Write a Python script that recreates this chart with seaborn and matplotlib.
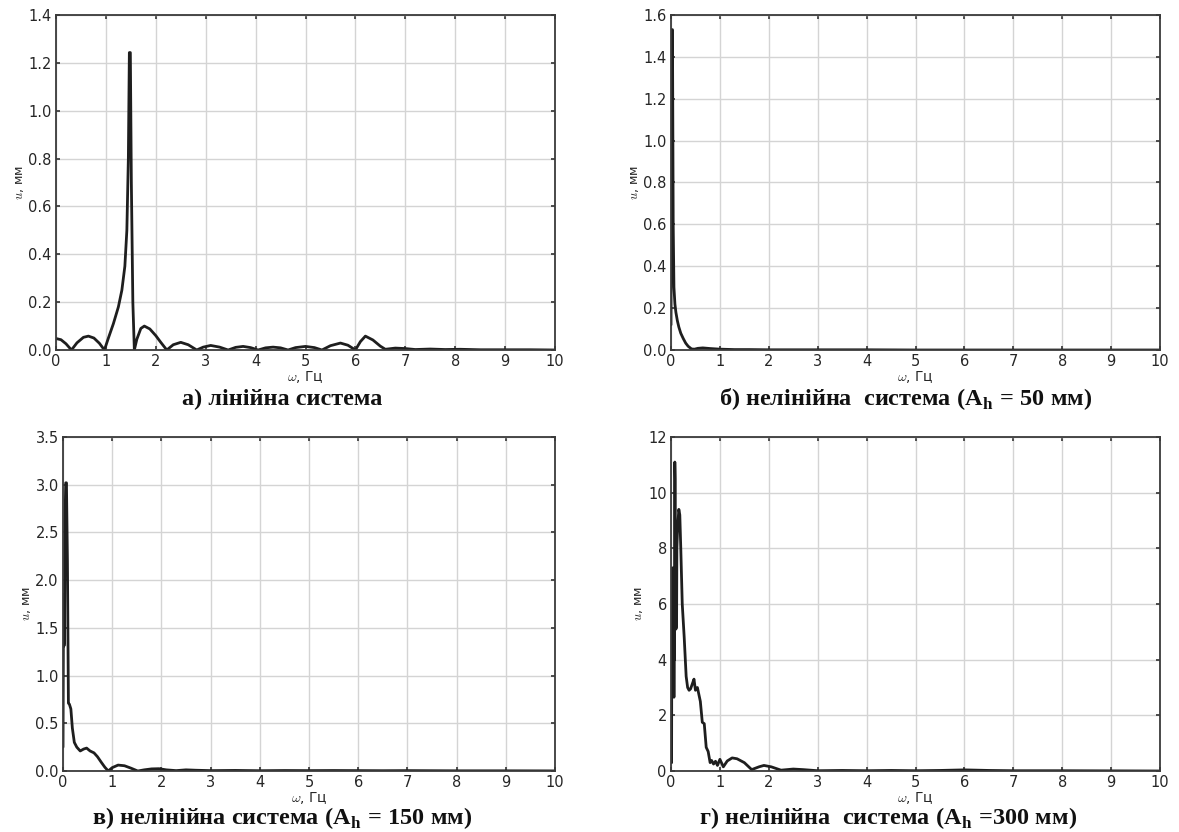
import matplotlib
matplotlib.use("Agg")
import matplotlib.pyplot as plt
import seaborn as sns
import numpy as np

# ---------------- data ----------------
freq_a = [0.0, 0.1, 0.2, 0.31, 0.42, 0.55, 0.65, 0.76, 0.87, 0.97, 1.05, 1.15, 1.25, 1.32,
          1.38, 1.42, 1.45, 1.47, 1.49, 1.51, 1.54, 1.57, 1.62, 1.7, 1.77, 1.88, 2.0, 2.1,
          2.22, 2.35, 2.5, 2.65, 2.82, 2.95, 3.1, 3.28, 3.45, 3.6, 3.75, 3.9, 4.05, 4.2, 4.35,
          4.5, 4.65, 4.8, 5.0, 5.18, 5.33, 5.5, 5.7, 5.85, 6.0, 6.1, 6.2, 6.35, 6.5, 6.6,
          6.8, 7.0, 7.2, 7.5, 7.8, 8.1, 8.5, 9.0, 9.5, 10.0]
amp_a = [0.048, 0.043, 0.026, 0.0, 0.03, 0.053, 0.058, 0.05, 0.028, 0.0, 0.05, 0.11, 0.18, 0.25,
         0.35, 0.5, 0.8, 1.243, 1.243, 0.7, 0.2, 0.0, 0.045, 0.09, 0.1, 0.088, 0.06, 0.032,
         0.0, 0.022, 0.032, 0.022, 0.0, 0.012, 0.019, 0.012, 0.0, 0.011, 0.015, 0.01, 0.0, 0.009, 0.012,
         0.009, 0.0, 0.01, 0.015, 0.01, 0.0, 0.018, 0.029, 0.02, 0.0, 0.035, 0.058, 0.042, 0.016, 0.003,
         0.008, 0.006, 0.002, 0.004, 0.002, 0.003, 0.001, 0.001, 0.001, 0.0]

freq_b = [0.0, 0.015, 0.03, 0.045, 0.06, 0.08, 0.1, 0.13, 0.16, 0.2, 0.25, 0.3, 0.35, 0.42,
          0.48, 0.55, 0.65, 0.8, 1.0, 1.3, 1.6, 2.0, 3.0, 4.0, 5.0, 6.0, 7.0, 8.0, 9.0, 10.0]
amp_b = [0.12, 1.53, 1.53, 0.6, 0.3, 0.22, 0.18, 0.14, 0.11, 0.08, 0.055, 0.033, 0.018, 0.005,
         0.004, 0.008, 0.01, 0.007, 0.004, 0.002, 0.002, 0.001, 0.001, 0.001, 0.0, 0.0, 0.0, 0.0, 0.0, 0.0]

freq_c = [0.0, 0.01, 0.02, 0.03, 0.04, 0.055, 0.07, 0.09, 0.11, 0.13, 0.16, 0.19, 0.23, 0.28,
          0.35, 0.42, 0.48, 0.55, 0.63, 0.7, 0.78, 0.85, 0.92, 1.0, 1.12, 1.25, 1.38, 1.52,
          1.65, 1.8, 1.95, 2.1, 2.3, 2.5, 2.7, 3.0, 3.5, 4.0, 4.5, 5.0, 5.5, 6.0, 6.5, 7.0,
          8.0, 9.0, 10.0]
amp_c = [0.25, 1.85, 1.31, 1.35, 2.6, 3.02, 3.02, 2.2, 0.71, 0.7, 0.65, 0.45, 0.3, 0.25,
         0.21, 0.23, 0.24, 0.21, 0.19, 0.15, 0.09, 0.04, 0.0, 0.035, 0.062, 0.055, 0.03, 0.0,
         0.012, 0.022, 0.024, 0.012, 0.004, 0.012, 0.008, 0.004, 0.006, 0.003, 0.005, 0.004, 0.005, 0.004, 0.003, 0.004,
         0.002, 0.002, 0.001]

freq_d = [0.0, 0.006, 0.012, 0.018, 0.024, 0.03, 0.036, 0.042, 0.048, 0.054, 0.06, 0.066,
          0.072, 0.078, 0.084, 0.09, 0.096, 0.102, 0.108, 0.114, 0.12, 0.13, 0.145, 0.16,
          0.18, 0.2, 0.23, 0.27, 0.31, 0.34, 0.37, 0.4, 0.43, 0.47, 0.5, 0.54, 0.6, 0.64,
          0.68, 0.72, 0.76, 0.8, 0.83, 0.87, 0.91, 0.95, 1.0, 1.07, 1.15, 1.25, 1.35, 1.5,
          1.65, 1.8, 1.9, 2.05, 2.25, 2.5, 2.7, 3.0, 3.5, 4.0, 4.5, 5.0, 5.5, 6.0, 6.5, 7.0,
          8.0, 9.0, 10.0]
amp_d = [0.3, 5.0, 0.3, 7.2, 4.0, 7.3, 4.5, 7.2, 6.5, 7.0, 2.65, 6.0, 4.0, 11.1, 10.5, 5.1,
         8.0, 5.1, 8.3, 5.2, 8.0, 8.5, 9.0, 9.4,
         9.2, 8.0, 6.0, 4.8, 3.4, 3.0, 2.9, 2.95, 3.1, 3.3, 2.9, 3.0, 2.5, 1.75,
         1.7, 0.85, 0.7, 0.3, 0.38, 0.25, 0.35, 0.2, 0.42, 0.15, 0.36, 0.47, 0.44, 0.3,
         0.05, 0.15, 0.2, 0.15, 0.03, 0.07, 0.05, 0.01, 0.02, 0.01, 0.02, 0.01, 0.02, 0.04, 0.02, 0.01,
         0.01, 0.005, 0.0]

ylims = [1.4, 1.6, 3.5, 12]
yticks = [np.round(np.arange(0, 1.41, 0.2), 1), np.round(np.arange(0, 1.61, 0.2), 1),
          np.round(np.arange(0, 3.51, 0.5), 1), [0, 2, 4, 6, 8, 10, 12]]
ytick_fmt = ["{:.1f}", "{:.1f}", "{:.1f}", "{:d}"]
xticks = list(range(0, 11))

captions = ["а) лінійна система",
            "б) нелінійна  система (A$_\\mathregular{h}$ = 50 мм)",
            "в) нелінійна система (A$_\\mathregular{h}$ = 150 мм)",
            "г) нелінійна  система (A$_\\mathregular{h}$ =300 мм)"]

# ---------------- figure ----------------
sns.set_theme(style="ticks")
plt.rcParams["font.family"] = ["DejaVu Sans"]
plt.rcParams["mathtext.fontset"] = "cm"

fig = plt.figure(figsize=(11.79, 8.32), dpi=100)
positions = [
    [56 / 1179, 1 - 350 / 832, 499 / 1179, 335 / 832],
    [671 / 1179, 1 - 350 / 832, 489 / 1179, 335 / 832],
    [63 / 1179, 1 - 771 / 832, 492 / 1179, 334 / 832],
    [671 / 1179, 1 - 771 / 832, 489 / 1179, 334 / 832],
]
series = [(freq_a, amp_a), (freq_b, amp_b), (freq_c, amp_c), (freq_d, amp_d)]
cap_pos = [(282, 399), (906, 399), (282, 818), (888, 818)]

for i, (pos, (xs, ys)) in enumerate(zip(positions, series)):
    ax = fig.add_axes(pos)
    sns.lineplot(x=xs, y=ys, ax=ax, color="#1e1e1e", linewidth=2.0,
                 estimator=None, sort=False)
    ax.set_xlim(0, 10)
    ax.set_ylim(0, ylims[i])
    ax.set_xticks(xticks)
    ax.set_xticklabels([str(t) for t in xticks])
    ax.set_yticks(yticks[i])
    ax.set_yticklabels([ytick_fmt[i].format(int(t) if ytick_fmt[i] == "{:d}" else t)
                        for t in yticks[i]])
    ax.grid(True, color="#d4d4d4", linewidth=1.0)
    ax.set_axisbelow(True)
    for sp in ax.spines.values():
        sp.set_visible(True)
        sp.set_color("#3a3a3a")
        sp.set_linewidth(1.3)
    ax.tick_params(direction="in", top=True, right=True, length=3,
                   labelsize=10.5, colors="#3a3a3a", labelcolor="#262626", pad=3)
    ax.set_xlabel("$\\omega$, Гц", fontsize=10, color="#262626", labelpad=0)
    ax.set_ylabel("$u$, мм", fontsize=9, color="#262626", labelpad=2)
    cx, cy = cap_pos[i]
    fig.text(cx / 1179, 1 - cy / 832, captions[i], ha="center", va="center",
             fontsize=17.5, family="Liberation Serif", fontweight="bold", color="#111111")

fig.savefig("out.png", dpi=100, facecolor="white")
